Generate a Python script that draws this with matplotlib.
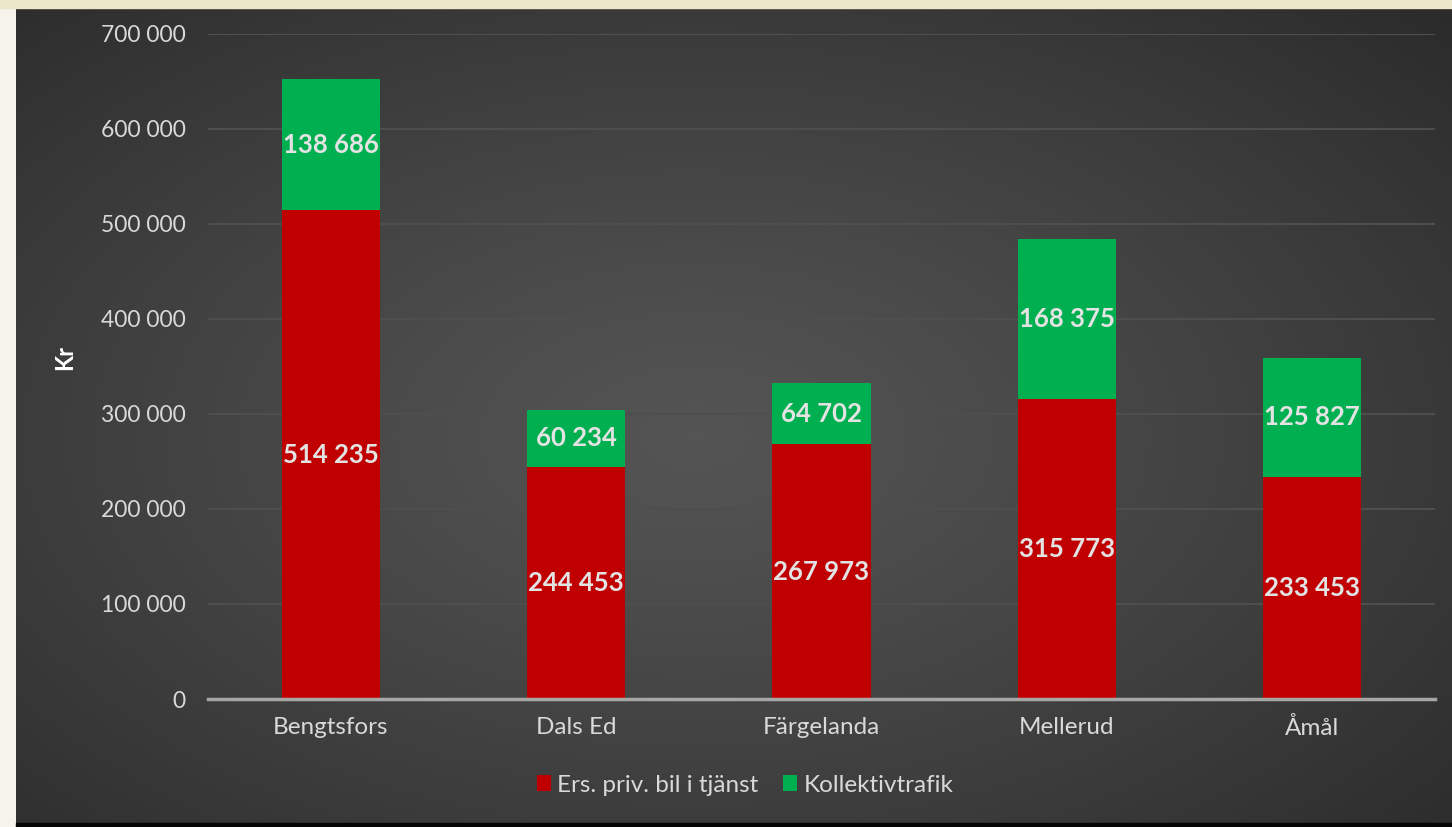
import numpy as np
import matplotlib
matplotlib.use('Agg')
import matplotlib.pyplot as plt
from matplotlib.patches import Rectangle

kommuner = ['Bengtsfors', 'Dals Ed', 'Färgelanda', 'Mellerud', 'Åmål']
bil = [514235, 244453, 267973, 315773, 233453]
kollektiv = [138686, 60234, 64702, 168375, 125827]
serier = ['Ers. priv. bil i tjänst', 'Kollektivtrafik']
yticks = [0, 100000, 200000, 300000, 400000, 500000, 600000, 700000]

plt.rcParams['font.family'] = ['Lato', 'DejaVu Sans']

W, H = 1452, 827
fig = plt.figure(figsize=(W / 100, H / 100), dpi=100)
fig.patch.set_facecolor('#f6f4ea')

# cream strip on top and black strip at the bottom
fig.patches.append(Rectangle((0, 1 - 8 / H), 1, 8 / H, transform=fig.transFigure,
                             color='#ece7cb', zorder=0))
fig.patches.append(Rectangle((16 / W, 0), 1, 4 / H, transform=fig.transFigure,
                             color='#050505', zorder=0))

# dark panel with radial gradient
bg = fig.add_axes([16 / W, 4 / H, 1 - 16 / W, 1 - 12 / H])
bg.set_axis_off()
yy, xx = np.mgrid[0:400, 0:700]
cx, cy = 330, 210
r = np.sqrt(((xx - cx) / 560.0) ** 2 + ((yy - cy) / 330.0) ** 2)
r = np.clip(r, 0, 1)
val = 0.33 - 0.18 * r ** 1.2
img = np.dstack([val, val, val])
bg.imshow(img, aspect='auto', extent=[0, 1, 0, 1], interpolation='bilinear')
bg.set_xlim(0, 1)
bg.set_ylim(0, 1)

ax = fig.add_axes([208 / W, 1 - 699 / H, 1227 / W, 665 / H])
ax.patch.set_alpha(0)

x = np.arange(len(kommuner))
b1 = ax.bar(x, bil, width=0.4, color='#c00000', label=serier[0], zorder=3)
b2 = ax.bar(x, kollektiv, width=0.4, bottom=bil, color='#00b050', label=serier[1], zorder=3)

for i in range(len(kommuner)):
    ax.text(x[i], bil[i] / 2, f'{bil[i]:,}'.replace(',', ' '), ha='center', va='center',
            color='#e3e3e3', fontsize=18.5, fontweight='bold', zorder=4)
    ax.text(x[i], bil[i] + kollektiv[i] / 2, f'{kollektiv[i]:,}'.replace(',', ' '),
            ha='center', va='center', color='#e3e3e3', fontsize=18.5, fontweight='bold', zorder=4)

ax.set_xlim(-0.5, 4.5)
ax.set_ylim(0, 700000)
ax.set_yticks(yticks)
ax.set_yticklabels([f'{v:,}'.replace(',', ' ') for v in yticks])
ax.set_xticks(x)
ax.set_xticklabels(kommuner)
ax.tick_params(axis='both', length=0, colors='#d9d9d9', labelsize=16.5)
ax.tick_params(axis='x', labelsize=17.5)
ax.tick_params(axis='y', pad=16)
ax.tick_params(axis='x', pad=13)
ax.grid(axis='y', color='#4e4e4e', linewidth=1.5, zorder=0)
for s in ['top', 'right', 'left']:
    ax.spines[s].set_visible(False)
ax.spines['bottom'].set_color('#a6a6a6')
ax.spines['bottom'].set_linewidth(2.5)
ax.spines['bottom'].set_zorder(5)

fig.text(65 / W, 1 - 358 / H, 'Kr', rotation=90, ha='center', va='center',
         color='white', fontsize=17, fontweight='bold')

leg = fig.legend(handles=[b1, b2], loc='center', bbox_to_anchor=(745 / W, 1 - 785 / H),
                 ncol=2, frameon=False, prop={'size': 17.5},
                 handlelength=0.6, handleheight=0.6,
                 handletextpad=0.25, columnspacing=1.0, labelcolor='#d9d9d9')

plt.savefig('out.png', dpi=100, facecolor=fig.get_facecolor())
